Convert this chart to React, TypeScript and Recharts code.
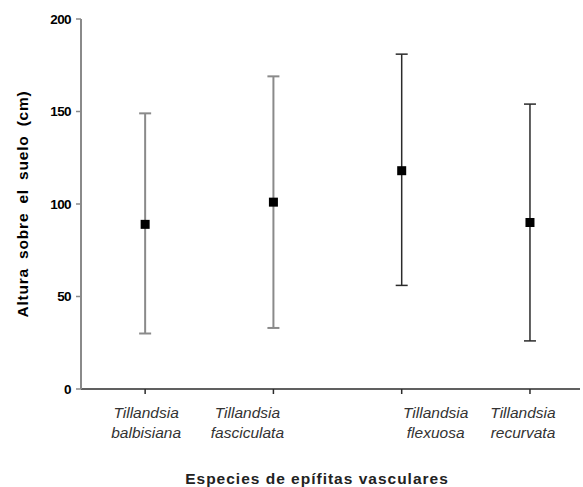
import { ScatterChart, Scatter, XAxis, YAxis, ErrorBar } from 'recharts'

const species = ['Tillandsia balbisiana', 'Tillandsia fasciculata', 'Tillandsia flexuosa', 'Tillandsia recurvata']
const means = [89, 101, 118, 90]
const upper = [149, 169, 181, 154]
const lower = [30, 33, 56, 26]
const yTicks = [0, 50, 100, 150, 200]

// bar colours and label nudges are layout only
const barColors = ['#8a8a8a', '#8a8a8a', '#2b2b2b', '#2b2b2b']
const labelShift = [1, -26, 34, -7]

const rows = species.map((name, i) => ({
  x: i + 1,
  y: means[i],
  name,
  err: [means[i] - lower[i], upper[i] - means[i]],
}))

const font = "'Liberation Sans', Arial, sans-serif"

function SpeciesTick(props: any) {
  const { x, y, payload } = props
  const i = payload.value - 1
  const [genus, epithet] = species[i].split(' ')
  const cx = x + labelShift[i]
  return (
    <g>
      <text x={cx} y={y + 22} textAnchor="middle" fontFamily={font} fontStyle="italic" fontSize={15.5} fill="#333">
        {genus}
      </text>
      <text x={cx} y={y + 42} textAnchor="middle" fontFamily={font} fontStyle="italic" fontSize={15.5} fill="#333">
        {epithet}
      </text>
    </g>
  )
}

function Square(props: any) {
  const { cx, cy } = props
  return <rect x={cx - 4.5} y={cy - 4.5} width={9} height={9} fill="#000" />
}

export default function App() {
  return (
    <div style={{ position: 'absolute', left: 0, top: 0, width: 583, height: 487, background: '#fff' }}>
      <ScatterChart width={583} height={487} margin={{ top: 19, right: 3, bottom: 0, left: 0 }}>
        <XAxis
          type="number"
          dataKey="x"
          domain={[0.5, 4.39]}
          ticks={[1, 2, 3, 4]}
          allowDataOverflow
          height={98}
          tickSize={5}
          tickMargin={2}
          axisLine={{ stroke: '#2b2b2b', strokeWidth: 1.5 }}
          tickLine={{ stroke: '#2b2b2b', strokeWidth: 1.5 }}
          tick={<SpeciesTick />}
          label={{
            content: (p: any) => {
              const vb = p.viewBox
              return (
                <text
                  x={317}
                  y={vb.y + 95}
                  textAnchor="middle"
                  fontFamily={font}
                  fontWeight="bold"
                  fontSize={15.5}
                  letterSpacing={1}
                  fill="#222"
                >
                  Especies de epífitas vasculares
                </text>
              )
            },
          }}
        />
        <YAxis
          type="number"
          dataKey="y"
          domain={[0, 200]}
          ticks={yTicks}
          width={81}
          tickSize={5}
          tickMargin={5}
          axisLine={{ stroke: '#8a8a8a', strokeWidth: 2 }}
          tickLine={{ stroke: '#8a8a8a', strokeWidth: 1.5 }}
          tick={{ fontFamily: font, fontWeight: 'bold', fontSize: 13.5, fill: '#000', letterSpacing: -0.6 }}
          label={{
            content: () => (
              <text
                x={28}
                y={204}
                transform="rotate(-90 28 204)"
                textAnchor="middle"
                fontFamily={font}
                fontWeight="bold"
                fontSize={15.5}
                letterSpacing={0.8}
                wordSpacing={4}
                fill="#000"
              >
                Altura sobre el suelo (cm)
              </text>
            ),
          }}
        />
        {rows.map((r, i) => (
          <Scatter key={r.name} data={[r]} shape={<Square />} isAnimationActive={false}>
            <ErrorBar dataKey="err" direction="y" width={6} stroke={barColors[i]} strokeWidth={i < 2 ? 2 : 1.5} />
          </Scatter>
        ))}
      </ScatterChart>
    </div>
  )
}
